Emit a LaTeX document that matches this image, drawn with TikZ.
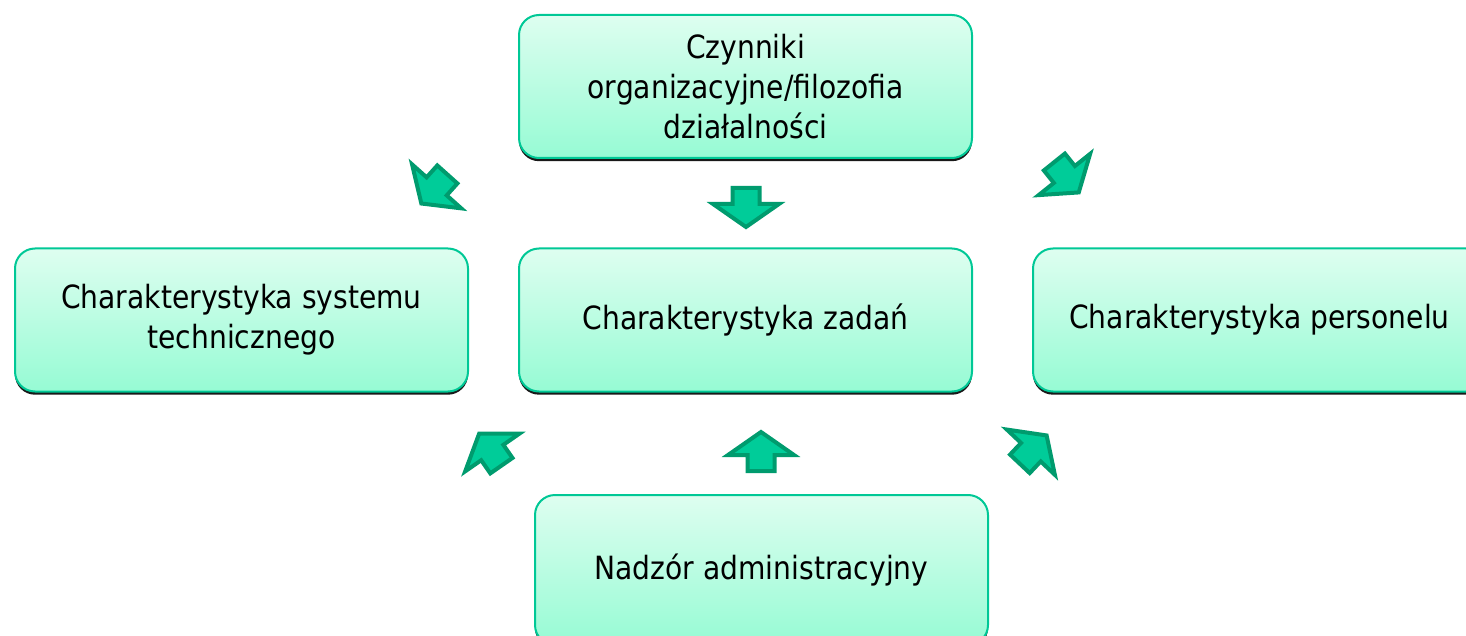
\documentclass[tikz,border=0pt]{standalone}
\usepackage{fontspec}
\setmainfont{DejaVu Sans}[FakeStretch=0.88]
\usetikzlibrary{shadows}
\definecolor{boxtop}{RGB}{222,254,240}
\definecolor{boxbottom}{RGB}{150,251,212}
\definecolor{boxline}{RGB}{0,200,150}
\definecolor{arrowfill}{RGB}{0,204,153}
\definecolor{arrowline}{RGB}{0,155,110}
\tikzset{
  topic/.style={rounded corners=10pt, draw=boxline, line width=1pt,
    top color=boxtop, bottom color=boxbottom,
    minimum width=226.5pt, minimum height=71.5pt, inner sep=0pt,
    align=center, font=\fontsize{16}{20}\selectfont,
    drop shadow={shadow xshift=0pt, shadow yshift=-1.6pt, fill=black, opacity=0.9}},
  blockarrowline/.style={fill=arrowfill, draw=arrowline, line width=2pt, line join=miter},
  pics/blockarrow/.style={code={
    \draw[blockarrowline] (-1pt,0pt) -- (-12.5pt,16.5pt) -- (-12.5pt,6.75pt)
      -- (-20.5pt,6.75pt) -- (-20.5pt,-6.75pt) -- (-12.5pt,-6.75pt) -- (-12.5pt,-16.5pt) -- cycle;
  }}
}
\begin{document}
\begin{tikzpicture}[x=0.5pt, y=-0.5pt]
  \useasboundingbox (0,0) rectangle (1466,636);

  % boxes
  \node[topic] (org) at (745.5,86.5) {Czynniki\\organizacyjne/filozofia\\działalności};
  \node[topic] (tech) at (241.5,320) {Charakterystyka systemu\\technicznego};
  \node[topic] (task) at (745.5,320) {Charakterystyka zadań};
  \node[topic] (staff) at (1259.5,320) {Charakterystyka personelu};
  \node[topic, minimum height=75pt] (adm) at (761.5,570) {Nadzór administracyjny};

  % arrow tips
  \coordinate (org-tech) at (420,205);
  \coordinate (org-task) at (746,229);
  \coordinate (org-staff) at (1080,194);
  \coordinate (adm-tech) at (478,432);
  \coordinate (adm-task) at (761,430);
  \coordinate (adm-staff) at (1048,434);

  % block arrows
  \pic[rotate=228.2] at (org-tech) {blockarrow};
  \pic[rotate=-90] at (org-task) {blockarrow};
  \pic[rotate=-51.3] at (org-staff) {blockarrow};
  \pic[rotate=124.8] at (adm-tech) {blockarrow};
  \pic[rotate=90] at (adm-task) {blockarrow};
  \pic[rotate=46.7] at (adm-staff) {blockarrow};
\end{tikzpicture}
\end{document}
